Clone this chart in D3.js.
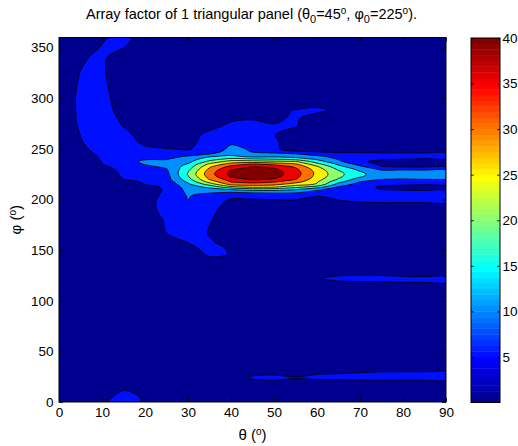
<!DOCTYPE html>
<html>
<head>
<meta charset="utf-8">
<script src="https://cdn.jsdelivr.net/npm/d3@7"></script>
<style>
  body { margin: 0; background: #fff; }
  svg { display: block; }
  text { font-family: "Liberation Sans", Arial, sans-serif; fill: #000; }
</style>
</head>
<body>
<svg id="chart" width="518" height="446"></svg>
<script>
// Sample positions of the array-factor grid (degrees)
const thetaValues = [0, 5, 10, 15, 20, 25, 30, 35, 40, 45, 50, 55, 60, 65, 70, 75, 80, 85, 90];
const phiValues = [0, 6, 12, 18, 21, 24, 27, 30, 34, 45, 80, 112, 117, 122, 127, 132, 140, 146, 152, 158,
  165, 172, 180, 188, 195, 200, 202.5, 205, 207.5, 210, 212.5, 215, 217.5, 220, 222.5, 225, 227.5, 230,
  232.5, 235, 237.5, 240, 242.5, 245, 247.5, 250, 256, 264, 272, 280, 288, 295, 310, 325, 340, 350, 360];

// Array factor magnitude, one row per phi value, one column per theta value
const afRows = [
  [2,2.5,4.2,7,4.5,2.5,2,2,2,2,2,2,2,2,2,2,2,2,2],
  [2,2.5,3,6.5,4.3,2.5,2,2,2,2,2,2,2,2,2,2,2,2,2],
  [2,2,2.5,4.8,3,2.5,2,2,2,2.5,2.5,2.5,2.5,2.5,2.5,2.5,2.5,2.5,2.5],
  [2,2,2,2.5,2.5,2,2,2,3,3,3,3,3,3,3,3,3,3,3],
  [2,2,2,2,2,2,2,2.5,3.5,4.2,4.7,3.8,4.4,4.3,4.4,4.5,4.5,4.5,4.5],
  [2,2,2,2,2,2,2,2.5,3,5.6,6.5,5.3,6,6.2,6.8,7,7.2,7.2,7.2],
  [2,2,2,2,2,2,2,2.5,3.5,4.5,4.8,3.8,5.2,5.5,6.3,7,7.2,7.2,7.2],
  [2,2,2,2,2,2,2,2.5,3,3,3,3,3.5,3.8,4.3,4.8,4.9,4.9,4.9],
  [2,2,2,2,2,2,2,2,2.5,2.5,2.5,2.5,2.5,2.5,2.5,2.8,3,3,3],
  [2,2,2,2,2,2,2,2,2,2,2,2,2,2,2,2,2,2,2],
  [2,2,2,2,2,2,2,2,2,2,2,2,2,2,2,2,2,2,2],
  [2,2,2,2,2,2,2,2,2,2,2.5,2.5,2.5,2.5,2.5,2.5,2.5,2.5,2.5],
  [2,2,2,2,2,2,2,2,2,2.5,2.5,3,3.5,3.5,3.5,4,4.5,4.6,4.6],
  [2,2,2,2,2,2,2,2,2,2.5,3,3.5,4.6,6.5,7,7,6.5,6.3,6.3],
  [2,2,2,2,2,2,2,2,2,2.5,2.5,3,3.3,3.5,3.8,3.5,3,2.8,2.8],
  [2,2,2,2,2,2,2.5,2.5,2.5,2.5,2.5,2.5,2.5,2.5,2.5,2.5,2.5,2.5,2.5],
  [2,2,2,2,2,2.5,2.5,4.3,3,2.5,2.5,2.5,2.5,2.5,2.5,2.5,2.5,2.5,2.5],
  [2,2,2,2,2,2.5,3.2,5.5,4.9,2.5,2.5,2.5,2.5,2.5,2.5,2.5,2.5,2.5,2.5],
  [2,2,2,2,2.5,2.8,4.2,6,4.6,2.5,2.5,2.5,2.5,2.5,2.5,2.5,2.5,2.5,2.5],
  [2,2,2,2,2.5,3.5,5.1,5.3,4,2.5,2.5,2.5,2.5,2.5,2.5,2.5,2.5,2.5,2.5],
  [2,2,2,2,2.5,4.9,6,4.9,3.2,2.5,2.5,2.5,2.5,2.5,2.5,2.5,2.5,2.5,2.5],
  [2,2,2,2,2.5,5.3,7,4.9,3,2.5,2.5,2.5,2.5,2.5,2.5,2.5,2.5,2.5,2.5],
  [2,2,2,2,2.5,5.5,7,5.3,3,2.5,2.5,2.5,2.5,2.5,2.5,2.5,2.5,2.5,2.5],
  [2,2,2,2,2.5,6.8,7,6,3,2.5,2.5,3,2.5,2.5,3,3,3,3,3],
  [2,2,2,2,2.5,7.5,7.5,7,3.5,3,3.2,3.5,2.5,3.5,4.4,4.5,4.5,4.5,4.5],
  [2,2.5,2.5,2.5,2.5,7,10.1,7.5,4.6,4.8,5.1,5.2,3.5,5.2,5.6,5.8,5.8,5.8,5.8],
  [2,2.5,2.5,2.5,2.5,6.6,10.2,8,5.8,6.5,6.5,7,4.5,6,6,6.3,6.3,6.3,6.3],
  [2,2.5,2.5,2.5,2.5,6.2,10.5,9,7.5,8.5,8.5,8.5,6,6.5,6.3,6.5,6.5,6.5,6.5],
  [2,2.5,2.5,2.5,2.5,5.8,11,11,10.5,11,11.5,11,9,7,6.2,6,6,6,6],
  [2,2.5,2.5,2.5,3,5.6,11.5,13,15.5,17.5,17.5,15.5,11,8,6,4.9,4.5,4.3,4.3],
  [2,2.5,2.5,2.5,4.4,5.3,12.5,16.5,24,26.5,26,22,18,9.8,6.3,4.5,4,3.8,3.8],
  [2,2.5,2.5,2.5,5.1,6,14,22,31.5,32.5,31.5,27.5,24.5,13,8,6,5.5,5.3,5.3],
  [2,2.5,2.5,3.5,5.6,7,16,27,35.2,37,35.5,32,25.5,16.5,10.1,7.5,7,7,7],
  [2,2.5,2.5,5.05,6,8,18,30.5,37.5,40.8,39.5,35.2,27,19.5,12.5,10.1,9.8,10.1,10.1],
  [2,2.5,2.5,5.3,6.5,8,19.5,32,40.5,42.5,41.5,36.5,28.3,21,15.5,11.8,11.5,11.5,11.5],
  [2,2.5,2.5,5.7,7,8.5,20.5,33,41.5,43,42.3,37.2,28.7,21.5,16,12.5,12,11.8,11.8],
  [2,2.5,2.5,6,7.5,9,19.8,32.5,41,42.5,42,37,28.5,20.8,15.2,11.5,11,10.8,10.8],
  [2,2.5,3,6.5,8,9.8,18.5,31,39.5,41.5,40.8,36,27.5,19,13.5,9,9.5,9.5,9.5],
  [2,2.5,4,7,9,11,17,29,36.5,39.8,38.5,34,25.5,16.5,11,5.2,4.2,4,4],
  [2,2.5,4.9,7.5,10.3,11.5,15.3,26,32,35.2,33,30.5,21.5,14,8,4,3.5,3.3,3.3],
  [2,2.5,5.1,7.8,11,11,13.5,21,27,27,26,25.2,17.5,11,5.6,4,3.8,3.5,3.5],
  [2,3,5.3,7.8,9.5,9.7,12,18,21,20.2,19.5,17.5,14,9.5,6,5.5,5.1,4.8,4.8],
  [2,3,5.5,7.6,8.5,8.5,10.5,14.5,16.5,13.5,14,13,11.5,7.5,6.8,6.5,6.3,6.2,6.2],
  [2,3.5,5.8,7.5,8,7.5,8,9.8,13,10.5,10.8,10.2,7,6,6.5,6,6,6,6],
  [2,3.8,6.2,7.5,7,6.5,5.5,8,11.5,9.8,8.5,5.3,4.6,4,3.5,3.5,3.5,3.5,3.5],
  [2,4,6.8,7.5,5.8,5.2,4.6,7,11,9.5,6,2.5,2.5,2,2,2,2,2,2],
  [2,4.5,8.1,7,4.2,2.5,3,8,9.5,8.5,5.8,2.3,2,2,2,2,2,2,2],
  [2,5.06,8,6.5,2.75,2.5,3.5,6,7,7,5.2,2.5,2.5,2.5,2,2,2,2,2],
  [2,5.5,7.5,4.9,2,2.5,3,3.9,6,6.5,5.3,5.2,3,2.5,2,2,2,2,2],
  [2,5.8,7,4.2,2,2,2.5,3,4.3,4.7,4.4,5.5,3,2.5,2,2,2,2,2],
  [2,5.85,7,3.2,2,2,2,2.5,3,3.5,4,5.2,6,4,2.5,2,2,2,2],
  [2,5.9,7,2.5,2,2,2,2,2.5,3,3,3,3.5,3,2,2,2,2,2],
  [2,5.7,6.5,1.5,2,2,2,2,2,2,2,2,2,2,2,2,2,2,2],
  [2,5.1,5.6,2.3,2,2,2,2,2,2,2,2,2,2,2,2,2,2,2],
  [2,4.4,6,1.8,2,2,2,2,2,2,2,2,2,2,2,2,2,2,2],
  [2,2,5.4,5.1,2,2,2,2,2,2,2,2,2,2,2,2,2,2,2],
  [2,3,4.1,7,1.8,2,2,2,2,2,2,2,2,2,2,2,2,2,2]
];

const contourLevels = [5, 10, 15, 20, 25, 30, 35, 40];
const colorRange = [0, 40];
const colorbarTicks = [5, 10, 15, 20, 25, 30, 35, 40];
const thetaTicks = [0, 10, 20, 30, 40, 50, 60, 70, 80, 90];
const phiTicks = [0, 50, 100, 150, 200, 250, 300, 350];

// MATLAB-style 64-entry jet colormap
function jet64(i) {
  const n = 16;
  const u = k => (k < 1 ? 0 : k <= n ? k / n : k <= 2 * n - 1 ? 1 : k <= 3 * n - 1 ? (3 * n - k) / n : 0);
  return d3.rgb(Math.round(u(i - 24) * 255), Math.round(u(i - 8) * 255), Math.round(u(i + 8) * 255)).formatHex();
}
const colorIndex = v => Math.max(1, Math.min(64, Math.floor((v - colorRange[0]) / (colorRange[1] - colorRange[0]) * 64) + 1));
const colorFor = v => jet64(colorIndex(v));

const svg = d3.select("#chart");
const plotLeft = 59, plotRight = 446, plotTop = 37.5, plotBottom = 402;
const x = d3.scaleLinear([0, 90], [plotLeft, plotRight]);
const y = d3.scaleLinear([0, 360], [plotBottom, plotTop]);

// grid index -> angle (rows/columns may be unevenly spaced)
const nx = thetaValues.length, ny = phiValues.length;
const colToTheta = d3.scaleLinear(d3.range(nx), thetaValues).clamp(true);
const rowToPhi = d3.scaleLinear(d3.range(ny), phiValues).clamp(true);
const project = ([cx, cy]) => [x(colToTheta(cx - 0.5)), y(rowToPhi(cy - 0.5))];

const ringLine = d3.line().curve(d3.curveCatmullRomClosed.alpha(0.5));
function contourPath(geom) {
  let d = "";
  geom.coordinates.forEach(poly => poly.forEach(ring => {
    const pts = ring.slice(0, -1).map(project);
    const kept = pts.filter((p, i, a) => {
      const q = a[(i + a.length - 1) % a.length];
      return Math.hypot(p[0] - q[0], p[1] - q[1]) > 0.05;
    });
    if (kept.length >= 3) d += ringLine(kept);
  }));
  return d;
}

const bands = d3.contours().size([nx, ny]).thresholds(contourLevels)(afRows.flat());

svg.append("defs").append("clipPath").attr("id", "plotClip")
  .append("rect").attr("x", plotLeft).attr("y", plotTop)
  .attr("width", plotRight - plotLeft).attr("height", plotBottom - plotTop);

const plot = svg.append("g").attr("clip-path", "url(#plotClip)");
plot.append("rect").attr("x", plotLeft).attr("y", plotTop)
  .attr("width", plotRight - plotLeft).attr("height", plotBottom - plotTop)
  .attr("fill", jet64(1));
plot.selectAll("path.band").data(bands).join("path")
  .attr("class", "band")
  .attr("d", contourPath)
  .attr("fill", d => colorFor(d.value))
  .attr("fill-rule", "evenodd")
  .attr("stroke", "#000")
  .attr("stroke-width", 0.8)
  .attr("stroke-linejoin", "round");

// Axes with inward ticks on all four sides
const tickLen = 4;
const fontTick = 13.5;
const gx = svg.append("g").attr("transform", `translate(0,${plotBottom})`)
  .call(d3.axisBottom(x).tickValues(thetaTicks).tickSizeInner(-tickLen).tickSizeOuter(0).tickPadding(5.5));
const gxTop = svg.append("g").attr("transform", `translate(0,${plotTop})`)
  .call(d3.axisTop(x).tickValues(thetaTicks).tickSizeInner(-tickLen).tickSizeOuter(0).tickFormat(""));
const gy = svg.append("g").attr("transform", `translate(${plotLeft},0)`)
  .call(d3.axisLeft(y).tickValues(phiTicks).tickSizeInner(-tickLen).tickSizeOuter(0).tickPadding(5.5));
const gyRight = svg.append("g").attr("transform", `translate(${plotRight},0)`)
  .call(d3.axisRight(y).tickValues(phiTicks).tickSizeInner(-tickLen).tickSizeOuter(0).tickFormat(""));
[gx, gxTop, gy, gyRight].forEach(g => {
  g.select(".domain").remove();
  g.selectAll("line").attr("stroke", "#000").attr("stroke-width", 0.8);
  g.selectAll("text").attr("font-size", fontTick).attr("font-family", "Liberation Sans, Arial, sans-serif").attr("fill", "#000");
});
svg.append("rect").attr("x", plotLeft).attr("y", plotTop)
  .attr("width", plotRight - plotLeft).attr("height", plotBottom - plotTop)
  .attr("fill", "none").attr("stroke", "#000").attr("stroke-width", 1);

// Colorbar
const cbLeft = 471, cbRight = 500, cbTop = 38, cbBottom = 402.5;
const cb = d3.scaleLinear(colorRange, [cbBottom, cbTop]);
const steps = d3.range(64);
svg.append("g").selectAll("rect").data(steps).join("rect")
  .attr("x", cbLeft).attr("width", cbRight - cbLeft)
  .attr("y", i => cb(colorRange[0] + (i + 1) * (colorRange[1] - colorRange[0]) / 64))
  .attr("height", i => cb(colorRange[0] + i * (colorRange[1] - colorRange[0]) / 64) - cb(colorRange[0] + (i + 1) * (colorRange[1] - colorRange[0]) / 64) + 0.4)
  .attr("fill", i => jet64(i + 1));
const gcb = svg.append("g").attr("transform", `translate(${cbRight},0)`)
  .call(d3.axisRight(cb).tickValues(colorbarTicks).tickSizeInner(-3).tickSizeOuter(0).tickPadding(2.5));
const gcbLeft = svg.append("g").attr("transform", `translate(${cbLeft},0)`)
  .call(d3.axisLeft(cb).tickValues(colorbarTicks).tickSizeInner(-3).tickSizeOuter(0).tickFormat(""));
[gcb, gcbLeft].forEach(g => {
  g.select(".domain").remove();
  g.selectAll("line").attr("stroke", "#000").attr("stroke-width", 0.8);
  g.selectAll("text").attr("font-size", fontTick).attr("font-family", "Liberation Sans, Arial, sans-serif").attr("fill", "#000");
});
svg.append("rect").attr("x", cbLeft).attr("y", cbTop)
  .attr("width", cbRight - cbLeft).attr("height", cbBottom - cbTop)
  .attr("fill", "none").attr("stroke", "#000").attr("stroke-width", 1);

// Title with subscripts / superscripts
const title = svg.append("text").attr("x", (plotLeft + plotRight) / 2 - 1).attr("y", 19)
  .attr("text-anchor", "middle").attr("font-size", 14.5);
title.append("tspan").text("Array factor of 1 triangular panel (θ");
title.append("tspan").attr("dy", 4).attr("font-size", 11).text("0");
title.append("tspan").attr("dy", -4).text("=45");
title.append("tspan").attr("dy", -5.5).attr("font-size", 10).text("o");
title.append("tspan").attr("dy", 5.5).text(", φ");
title.append("tspan").attr("dy", 4).attr("font-size", 11).text("0");
title.append("tspan").attr("dy", -4).text("=225");
title.append("tspan").attr("dy", -5.5).attr("font-size", 10).text("o");
title.append("tspan").attr("dy", 5.5).text(").");

// Axis labels
const xLabel = svg.append("text").attr("x", (plotLeft + plotRight) / 2).attr("y", 440)
  .attr("text-anchor", "middle").attr("font-size", 15);
xLabel.append("tspan").text("θ (");
xLabel.append("tspan").attr("dy", -5.5).attr("font-size", 10).text("o");
xLabel.append("tspan").attr("dy", 5.5).text(")");

const yLabel = svg.append("text")
  .attr("transform", `translate(21,${(plotTop + plotBottom) / 2}) rotate(-90)`)
  .attr("text-anchor", "middle").attr("font-size", 15);
yLabel.append("tspan").text("φ (");
yLabel.append("tspan").attr("dy", -5.5).attr("font-size", 10).text("o");
yLabel.append("tspan").attr("dy", 5.5).text(")");
</script>
</body>
</html>
